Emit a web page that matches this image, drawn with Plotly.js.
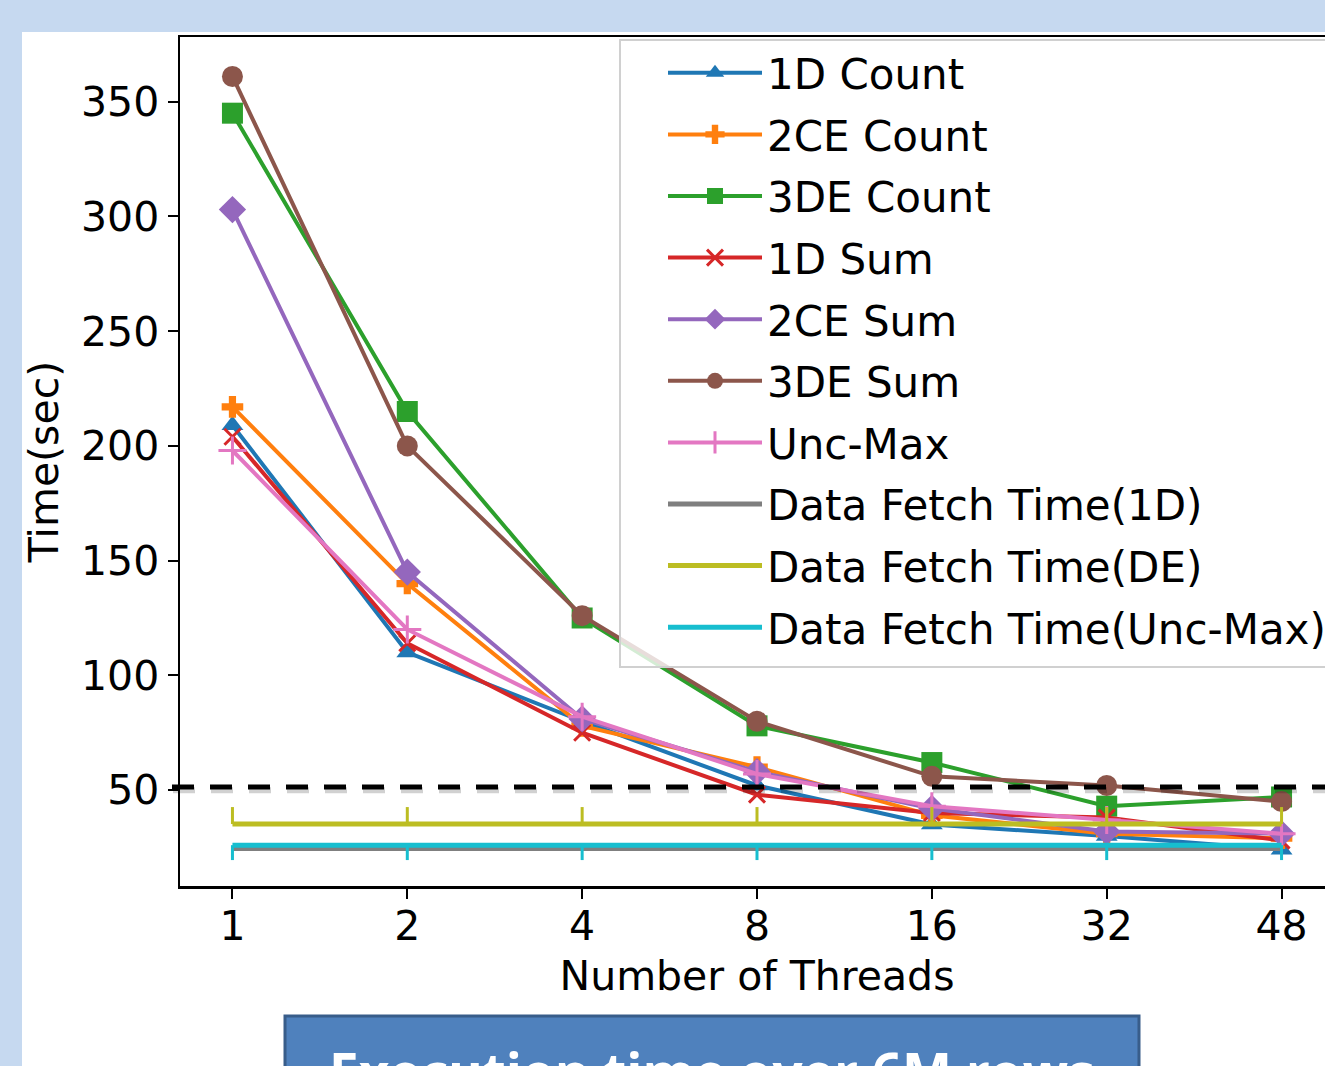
<!DOCTYPE html>
<html><head><meta charset="utf-8">
<script src="https://cdn.plot.ly/plotly-3.0.1.min.js"></script>
<style>html,body{margin:0;padding:0;overflow:hidden;background:#c6d9f0;} #chart{width:1400px;height:1066px;}</style>
</head><body><div id="chart"></div>
<script>
// ---- data ----
const threads = ['1','2','4','8','16','32','48'];
const count1D  = [209, 110, 80, 52, 35, 30, 24];
const count2CE = [217, 140, 78, 60, 39, 31, 29];
const count3DE = [345, 215, 125, 78, 62, 43, 47];
const sum1D    = [204, 114, 75, 48, 40, 38, 28];
const sum2CE   = [303, 145, 81, 58, 42, 32, 31];
const sum3DE   = [361, 200, 126, 80, 56, 52, 45];
const uncMax   = [198, 120, 82, 57, 43, 37, 31];
const fetch1D  = [24.5, 24.5, 24.5, 24.5, 24.5, 24.5, 24.5];
const fetchDE  = [35.2, 35.2, 35.2, 35.2, 35.2, 35.2, 35.2];
const fetchUnc = [26, 26, 26, 26, 26, 26, 26];
const threshold = 51.3;
const yTicks = [50, 100, 150, 200, 250, 300, 350];
const chartTitle = 'Execution time over 6M rows';

const idx = threads.map((t, i) => i);
const FONT = 'DejaVu Sans';

function series(name, y, color, symbol, size, extra) {
  return Object.assign({
    type: 'scatter', mode: 'lines+markers', name: name, legendgroup: name, x: idx, y: y,
    line: {color: color, width: 4},
    marker: {color: color, symbol: symbol, size: size, line: {width: 0}}
  }, extra || {});
}

const traces = [
  series('1D Count', count1D, '#1f77b4', 'triangle-up', 19),
  series('2CE Count', count2CE, '#ff7f0e', 'cross', 18),
  series('3DE Count', count3DE, '#2ca02c', 'square', 21),
  series('1D Sum', sum1D, '#d62728', 'x-thin-open', 16, {marker: {color: '#d62728', symbol: 'x-thin-open', size: 16, line: {width: 3, color: '#d62728'}}}),
  series('2CE Sum', sum2CE, '#9467bd', 'diamond', 21),
  series('3DE Sum', sum3DE, '#8c564b', 'circle', 21),
  series('Unc-Max', uncMax, '#e377c2', 'cross-thin-open', 20, {marker: {color: '#e377c2', symbol: 'cross-thin-open', size: 20, line: {width: 3, color: '#e377c2'}}}),
  {type: 'scatter', mode: 'lines', name: 'Data Fetch Time(1D)', legendgroup: 'f1', x: idx, y: fetch1D, line: {color: '#7f7f7f', width: 5}},
  {type: 'scatter', mode: 'lines', name: 'Data Fetch Time(DE)', legendgroup: 'f2', x: idx, y: fetchDE, line: {color: '#bcbd22', width: 5},
   error_y: {type: 'data', symmetric: false, array: fetchDE.map(() => 7.4), arrayminus: fetchDE.map(() => 0), thickness: 3, width: 0, color: '#bcbd22'}},
  {type: 'scatter', mode: 'lines', name: 'Data Fetch Time(Unc-Max)', legendgroup: 'f3', x: idx, y: fetchUnc, line: {color: '#17becf', width: 5},
   error_y: {type: 'data', symmetric: false, array: fetchUnc.map(() => 0), arrayminus: fetchUnc.map(() => 6.5), thickness: 3, width: 0, color: '#17becf'}}
];

// pixel helpers for paper coords (plot area: x 180..1334, y 37..886)
const L = 180, R = 66, T = 37, B = 180, W = 1400, H = 1066;
const PW = W - L - R, PH = H - T - B;
const px = v => (v - L) / PW;
const py = v => (H - B - v) / PH;

const layout = {
  width: W, height: H,
  margin: {l: L, r: R, t: T, b: B, pad: 0},
  paper_bgcolor: '#c6d9f0',
  plot_bgcolor: '#ffffff',
  font: {family: FONT, size: 41, color: '#000'},
  showlegend: true,
  legend: {
    x: px(663), y: py(39), xanchor: 'left', yanchor: 'top',
    bgcolor: 'rgba(0,0,0,0)', borderwidth: 0,
    font: {family: FONT, size: 42, color: '#000'},
    itemwidth: 94, traceorder: 'grouped', tracegroupgap: 4,
    maxheight: 1000
  },
  xaxis: {
    type: 'linear', range: [-0.3, 6.3],
    tickvals: idx, ticktext: threads,
    ticks: 'outside', ticklen: 10, tickwidth: 2, tickcolor: '#000',
    ticklabelstandoff: -8,
    showline: true, mirror: true, linecolor: '#000', linewidth: 2.5,
    showgrid: false, zeroline: false,
    tickfont: {family: FONT, size: 41, color: '#000'},
    title: {text: 'Number of Threads', font: {family: FONT, size: 41, color: '#000'}, standoff: 13}
  },
  yaxis: {
    type: 'linear', range: [8.2, 378.2],
    tickvals: yTicks,
    ticks: 'outside', ticklen: 10, tickwidth: 2, tickcolor: '#000',
    showline: true, mirror: true, linecolor: '#000', linewidth: 2.5,
    showgrid: false, zeroline: false,
    tickfont: {family: FONT, size: 41, color: '#000'},
    title: {text: 'Time(sec)', font: {family: FONT, size: 41, color: '#000'}, standoff: 10}
  },
  shapes: [
    {type: 'rect', layer: 'below', xref: 'paper', yref: 'paper', x0: px(22), x1: px(1450), y0: py(1200), y1: py(32),
     fillcolor: '#ffffff', line: {width: 0}},
    {type: 'rect', layer: 'above', xref: 'paper', yref: 'paper', x0: px(285), x1: px(1139), y0: py(1150), y1: py(1016),
     fillcolor: '#4f81bd', line: {color: '#385d8a', width: 3}},
    {type: 'line', layer: 'above', xref: 'paper', yref: 'y', x0: px(173), x1: px(1450), y0: threshold - 1.4, y1: threshold - 1.4,
     line: {color: 'rgba(0,0,0,0.18)', width: 6, dash: '22px,16px'}},
    {type: 'line', layer: 'above', xref: 'paper', yref: 'y', x0: px(172), x1: px(1450), y0: threshold, y1: threshold,
     line: {color: '#000', width: 5, dash: '22px,16px'}},
    {type: 'rect', layer: 'above', xref: 'paper', yref: 'paper', x0: px(620), x1: px(1500), y0: py(667), y1: py(40),
     fillcolor: 'rgba(255,255,255,0.8)', line: {color: '#d0d0d0', width: 2}}
  ],
  annotations: [
    {text: chartTitle, xref: 'paper', yref: 'paper', x: px(711), y: py(1033), xanchor: 'center', yanchor: 'top',
     showarrow: false, font: {family: 'Open Sans', size: 53, color: '#ffffff', weight: 'bold'}}
  ]
};

Plotly.newPlot('chart', traces, layout, {displayModeBar: false, staticPlot: true});
</script>
</body></html>
